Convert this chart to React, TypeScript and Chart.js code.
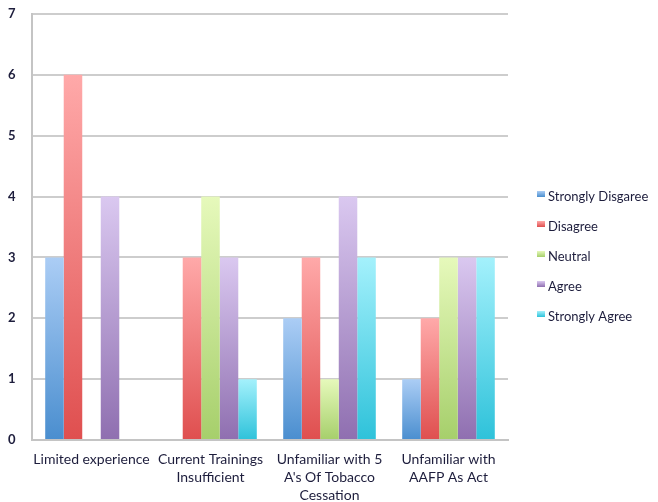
import { useEffect, useRef } from 'react';
import { Chart, registerables } from 'chart.js';

Chart.register(...registerables);

const categories: (string | string[])[] = [
  'Limited experience',
  ['Current Trainings', 'Insufficient'],
  ['Unfamiliar with 5', "A's Of Tobacco", 'Cessation'],
  ['Unfamiliar with', 'AAFP As Act'],
];

const seriesNames = ['Strongly Disgaree', 'Disagree', 'Neutral', 'Agree', 'Strongly Agree'];

const stronglyDisagree = [3, 0, 2, 1];
const disagree = [6, 3, 3, 2];
const neutral = [0, 4, 1, 3];
const agree = [4, 3, 4, 3];
const stronglyAgree = [0, 1, 3, 3];

const yMin = 0;
const yMax = 7;
const yStep = 1;

// light (top) and deep (bottom) shade of each series
const palette: [string, string][] = [
  ['#abcdf5', '#4a8ecf'],
  ['#ffa9a9', '#df4f4f'],
  ['#e6f9bb', '#a6cf6b'],
  ['#dac8f0', '#8f6fb0'],
  ['#a4f1fc', '#2ec2da'],
];

const TEXT = '#1d1d3c';
const FONT = 'Lato, "Open Sans", sans-serif';

// vertical gradient spanning each bar from its top down to the baseline
function barFill(top: string, bottom: string) {
  return (c: any) => {
    const chart = c.chart;
    const y = chart.scales?.y;
    if (!chart.chartArea || !y || c.type !== 'data') return bottom;
    const v = Number(c.raw) || 0;
    const yTop = y.getPixelForValue(v);
    const yBase = y.getPixelForValue(0);
    if (!(yBase - yTop > 0.5)) return bottom;
    const g = chart.ctx.createLinearGradient(0, yTop, 0, yBase);
    g.addColorStop(0, top);
    g.addColorStop(1, bottom);
    return g;
  };
}

// legend column drawn to the right of the plot
const sideLegend = {
  id: 'sideLegend',
  afterDraw(chart: any) {
    const { ctx, chartArea } = chart;
    const sets = chart.data.datasets;
    const step = 30;
    const x = chartArea.right + 29;
    const y0 = chart.height / 2 + 6 - ((sets.length - 1) * step) / 2;
    ctx.save();
    ctx.font = `13px ${FONT}`;
    ctx.textBaseline = 'middle';
    ctx.textAlign = 'left';
    sets.forEach((ds: any, i: number) => {
      const y = Math.round(y0 + i * step);
      const [top, bottom] = palette[i];
      const g = ctx.createLinearGradient(0, y - 6, 0, y);
      g.addColorStop(0, top);
      g.addColorStop(1, bottom);
      ctx.fillStyle = g;
      ctx.fillRect(x, y - 6, 8, 6);
      ctx.fillStyle = TEXT;
      ctx.fillText(ds.label, x + 11, y);
    });
    ctx.restore();
  },
};

export default function App() {
  const ref = useRef<HTMLCanvasElement | null>(null);

  useEffect(() => {
    if (!ref.current) return;
    const values = [stronglyDisagree, disagree, neutral, agree, stronglyAgree];
    const chart = new Chart(ref.current, {
      type: 'bar',
      data: {
        labels: categories,
        datasets: values.map((data, i) => ({
          label: seriesNames[i],
          data,
          backgroundColor: barFill(palette[i][0], palette[i][1]),
          borderWidth: 0,
          categoryPercentage: 0.778,
          barPercentage: 1,
        })),
      },
      options: {
        animation: false,
        responsive: false,
        maintainAspectRatio: false,
        devicePixelRatio: 1,
        layout: { padding: { left: 8, right: 150, top: 14, bottom: -12 } },
        plugins: {
          legend: { display: false },
          tooltip: { enabled: false },
        },
        scales: {
          x: {
            grid: { display: false, drawTicks: false },
            border: { display: true, color: '#c4c4c4', width: 2 },
            ticks: {
              color: TEXT,
              padding: 10,
              maxRotation: 0,
              autoSkip: false,
              font: { family: FONT, size: 14, lineHeight: '18px' },
            },
          },
          y: {
            min: yMin,
            max: yMax,
            grid: { color: '#cdcdcd', lineWidth: 2, drawTicks: false },
            border: { display: true, color: '#c4c4c4', width: 2 },
            afterFit: (s: any) => {
              s.width = 24;
            },
            ticks: {
              stepSize: yStep,
              color: TEXT,
              padding: 0,
              crossAlign: 'far',
              font: { family: FONT, size: 13, weight: 'bold' },
            },
          },
        },
      },
      plugins: [sideLegend],
    });
    return () => chart.destroy();
  }, []);

  return (
    <div style={{ position: 'fixed', left: 0, top: 0, width: 658, height: 502, background: '#fff' }}>
      <canvas ref={ref} width={658} height={502} style={{ width: 658, height: 502 }} />
    </div>
  );
}
